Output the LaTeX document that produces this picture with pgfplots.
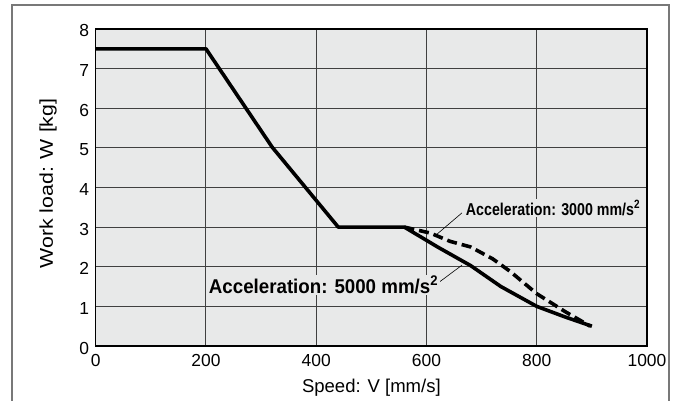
\documentclass[border=0pt]{standalone}
\usepackage{fontspec}
\setmainfont{Liberation Sans}
\usepackage{graphicx}
\usepackage{pgfplots}
\pgfplotsset{compat=1.18}
\definecolor{plotbg}{RGB}{232,233,233}
\definecolor{framegray}{RGB}{120,120,120}
\begin{document}
\begin{tikzpicture}
\useasboundingbox (-95.7bp,-55bp) rectangle (580.3bp,346bp);
\begin{axis}[
  at={(0,0)}, anchor=south west,
  scale only axis, width=551.3bp, height=317bp,
  xmin=0, xmax=1000, ymin=0, ymax=8,
  xtick={0,200,...,1000}, ytick={0,1,...,8},
  major tick length=0pt,
  grid=major,
  major grid style={line width=1bp, black!75},
  axis line style={line width=1.2bp, black},
  axis background/.style={fill=plotbg},
  /pgf/number format/assume math mode=true,
  /pgf/number format/1000 sep={},
  ticklabel style={font=\fontsize{17.5}{20}\selectfont},
  xticklabel style={yshift=-5bp},
  yticklabel style={xshift=-3bp, yshift=-2bp},
  xlabel={Speed: V [mm/s]},
  ylabel={\scalebox{1.15}[1]{Work load: W [kg]}},
  label style={font=\fontsize{18.6}{21}\selectfont},
  xlabel style={at={(axis description cs:0.5,-0.1325)}, anchor=center},
  ylabel style={at={(axis description cs:-0.0865,0.5126)}, anchor=center},
  clip=false,
]
\addplot[line width=3.6bp, black, line join=round] coordinates {
 (0,7.5) (200,7.5) (320,5.02) (440,3) (560,3) (620,2.5) (680,2.03) (735,1.5) (800,1.0) (850,0.74) (900,0.5)
};
\addplot[line width=3.6bp, black, dash pattern=on 10bp off 5bp, line join=round] coordinates {
 (560,3) (607,2.85) (643,2.64) (680,2.5) (720,2.2) (752,1.88) (800,1.32) (850,0.88) (897,0.5)
};
\draw[line width=0.6bp] (axis cs:664.4,3.36) -- (axis cs:615.5,2.78);
\draw[line width=0.6bp] (axis cs:621,1.59) -- (axis cs:664.4,2.04);
\node[fill=plotbg, inner sep=1.5bp, font=\fontsize{17.2}{19}\selectfont\bfseries] at (axis cs:829.5,3.48) {\scalebox{0.83}[1]{Acceleration: 3000 mm/s\textsuperscript{2}}};
\node[fill=plotbg, inner sep=1.5bp, font=\fontsize{20}{22}\selectfont\bfseries] at (axis cs:413.2,1.54) {\scalebox{0.94}[1]{Acceleration: 5000 mm/s\textsuperscript{2}}};
\end{axis}
\draw[framegray, line width=1.5bp] (-83.7bp,-70bp) -- (-83.7bp,341bp) -- (573.3bp,341bp) -- (573.3bp,-70bp);
\end{tikzpicture}
\end{document}
